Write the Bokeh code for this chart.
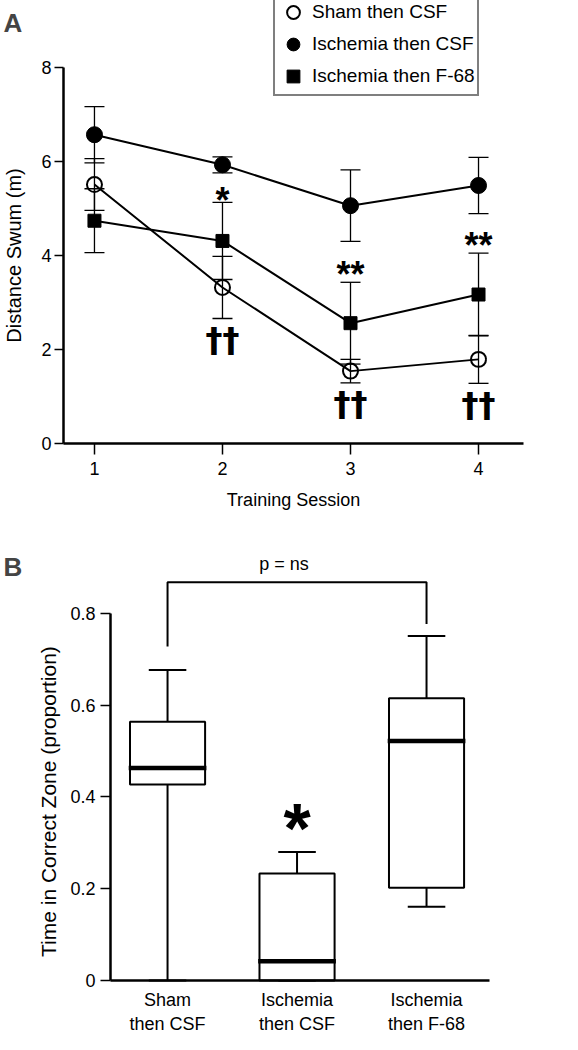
import math
from bokeh.plotting import figure
from bokeh.layouts import column
from bokeh.models import (Range1d, Legend, LegendItem, Whisker, TeeHead,
                          ColumnDataSource, FixedTicker, Label)
from bokeh.core.properties import value
from bokeh.embed import file_html
from bokeh.resources import INLINE

FONT = "Liberation Sans"

# ---------------- Panel A data ----------------
sessions = [1, 2, 3, 4]
sham_csf = [5.51, 3.32, 1.54, 1.79]
sham_csf_err = [0.55, 0.66, 0.25, 0.51]
isch_csf = [6.57, 5.93, 5.06, 5.49]
isch_csf_err = [0.60, 0.17, 0.76, 0.60]
isch_f68 = [4.74, 4.31, 2.56, 3.17]
isch_f68_err = [0.68, 0.82, 0.87, 0.88]
series_names = ["Sham then CSF", "Ischemia then CSF", "Ischemia then F-68"]

star_sessions = [2, 3, 4]
star_labels = ["*", "**", "**"]
dagger_sessions = [2, 3, 4]
dagger_labels = ["\u2020\u2020", "\u2020\u2020", "\u2020\u2020"]

# ---------------- Panel B data ----------------
groups = ["Sham\nthen CSF", "Ischemia\nthen CSF", "Ischemia\nthen F-68"]
group_pos = [1, 2, 3]
whisker_low = [0.0, 0.0, 0.161]
q1 = [0.427, 0.0, 0.202]
median = [0.463, 0.042, 0.522]
q3 = [0.564, 0.233, 0.615]
whisker_high = [0.677, 0.280, 0.751]
bracket_level = 0.868
bracket_ends = [0.728, 0.777]
bracket_text = "p = ns"


def style_axis(ax, tick_out=10):
    ax.axis_line_width = 2.5
    ax.axis_line_color = "black"
    ax.major_tick_line_width = 1.5
    ax.major_tick_line_color = "black"
    ax.minor_tick_line_color = None
    ax.major_tick_in = 0
    ax.major_tick_out = tick_out
    ax.major_label_text_font = FONT
    ax.major_label_text_font_size = "18px"
    ax.major_label_text_color = "black"
    ax.axis_label_text_font = FONT
    ax.axis_label_text_font_size = "18px"
    ax.axis_label_text_font_style = "normal"
    ax.axis_label_text_color = "black"


# ================= Panel A =================
# frame covers the whole figure; axes sit at fixed data locations
pA = figure(width=562, height=515, x_range=Range1d(0.266, 4.656),
            y_range=Range1d(-1.532, 9.426), output_backend="svg",
            toolbar_location=None, min_border_left=0, min_border_right=0,
            min_border_top=0, min_border_bottom=0)
pA.grid.visible = False
pA.outline_line_color = None
style_axis(pA.xaxis[0], 11)
style_axis(pA.yaxis[0], 9)
pA.xaxis.fixed_location = 0
pA.yaxis.fixed_location = 0.758
pA.xaxis.ticker = FixedTicker(ticks=sessions)
pA.yaxis.ticker = FixedTicker(ticks=[0, 2, 4, 6, 8])
pA.yaxis.bounds = (0, 8)
pA.xaxis.bounds = (0.758, 4.352)
pA.xaxis.axis_label = "Training Session"
pA.yaxis.axis_label = "Distance Swum (m)"
pA.yaxis.axis_label_text_font_size = "20px"
pA.xaxis.major_label_standoff = 8
pA.xaxis.axis_label_standoff = 11
pA.yaxis.major_label_standoff = 3
pA.yaxis.axis_label_standoff = 13

tee = dict(size=20, line_width=1.3, line_color="black")
for vals, errs in [(sham_csf, sham_csf_err), (isch_csf, isch_csf_err),
                   (isch_f68, isch_f68_err)]:
    src = ColumnDataSource(dict(x=sessions,
                                upper=[v + e for v, e in zip(vals, errs)],
                                lower=[v - e for v, e in zip(vals, errs)]))
    w = Whisker(base="x", upper="upper", lower="lower", source=src,
                level="underlay", line_width=1.3, line_color="black",
                upper_head=TeeHead(**tee), lower_head=TeeHead(**tee))
    pA.add_layout(w)
    pA.line(sessions, vals, line_color="black", line_width=2)

r_sham = pA.scatter(sessions, sham_csf, marker="circle", size=15,
                    fill_alpha=0, line_color="black", line_width=2)
r_isch = pA.scatter(sessions, isch_csf, marker="circle", size=16,
                    fill_color="black", line_color="black")
r_f68 = pA.scatter(sessions, isch_f68, marker="square", size=13,
                   fill_color="black", line_color="black")

star_y = [isch_f68[sessions.index(s)] + isch_f68_err[sessions.index(s)]
          + (0.05 if lab == "*" else 0.17)
          for s, lab in zip(star_sessions, star_labels)]
pA.text(star_sessions, star_y, text=star_labels, text_font=value(FONT),
        text_font_style="bold", text_font_size="36px", text_align="center",
        text_baseline="middle", text_color="black")
dag_y = [sham_csf[sessions.index(s)] - sham_csf_err[sessions.index(s)] - 0.46
         for s in dagger_sessions]
pA.text(dagger_sessions, dag_y, text=dagger_labels, text_font=value("DejaVu Sans"),
        text_font_style="bold", text_font_size="34px", text_align="center",
        text_baseline="middle", text_color="black")

legend = Legend(items=[LegendItem(label=series_names[0], renderers=[r_sham]),
                       LegendItem(label=series_names[1], renderers=[r_isch]),
                       LegendItem(label=series_names[2], renderers=[r_f68])],
                location=(273, 419))
legend.border_line_color = "black"
legend.border_line_width = 2
legend.background_fill_color = "white"
legend.background_fill_alpha = 1
legend.padding = 2
legend.spacing = -3
legend.margin = 0
legend.glyph_height = 32
legend.glyph_width = 32
legend.label_height = 32
legend.label_standoff = 3
legend.label_text_font = FONT
legend.label_text_font_size = "19px"
legend.label_text_color = "black"
pA.add_layout(legend)

pA.add_layout(Label(x=0.289, y=8.957, text="A", text_font=FONT,
                    text_font_style="bold", text_font_size="26px",
                    text_baseline="middle", text_align="left"))

# ================= Panel B =================
pB = figure(width=562, height=519, x_range=Range1d(-0.290, 4.050),
            y_range=Range1d(-0.1177, 1.0136), output_backend="svg",
            toolbar_location=None, min_border_left=0, min_border_right=0,
            min_border_top=0, min_border_bottom=0)
pB.grid.visible = False
pB.outline_line_color = None
style_axis(pB.xaxis[0], 0)
style_axis(pB.yaxis[0], 10)
pB.xaxis.fixed_location = 0
pB.yaxis.fixed_location = 0.560
pB.xaxis.bounds = (0.560, 3.486)
pB.xaxis.ticker = FixedTicker(ticks=group_pos)
pB.xaxis.major_label_overrides = dict(zip(group_pos, groups))
pB.xaxis.major_label_standoff = 9
pB.yaxis.ticker = FixedTicker(ticks=[0, 0.2, 0.4, 0.6, 0.8])
pB.yaxis.major_label_overrides = {0: "0", 0.2: "0.2", 0.4: "0.4", 0.6: "0.6", 0.8: "0.8"}
pB.yaxis.bounds = (0, 0.8)
pB.yaxis.major_label_standoff = 5

# y-axis title, placed alongside the 0-0.8 span of the axis
pB.add_layout(Label(x=0.081, y=0.39, text="Time in Correct Zone (proportion)",
                    angle=math.pi / 2, text_font=FONT, text_font_size="21px",
                    text_align="center", text_baseline="middle",
                    text_color="black"))

half_box = 0.29
half_cap = 0.145
pB.segment(group_pos, q3, group_pos, whisker_high, line_color="black", line_width=2)
pB.segment(group_pos, whisker_low, group_pos, q1, line_color="black", line_width=2)
pB.segment([g - half_cap for g in group_pos], whisker_high,
           [g + half_cap for g in group_pos], whisker_high,
           line_color="black", line_width=2)
pB.segment([g - half_cap for g in group_pos], whisker_low,
           [g + half_cap for g in group_pos], whisker_low,
           line_color="black", line_width=2)
pB.quad(left=[g - half_box for g in group_pos], right=[g + half_box for g in group_pos],
        bottom=q1, top=q3, fill_color="white", line_color="black", line_width=2)
pB.segment([g - half_box - 0.01 for g in group_pos], median,
           [g + half_box + 0.01 for g in group_pos], median,
           line_color="black", line_width=4.5)

# bracket between groups 1 and 3
pB.line([group_pos[0], group_pos[0], group_pos[2], group_pos[2]],
        [bracket_ends[0], bracket_level, bracket_level, bracket_ends[1]],
        line_color="black", line_width=2)
pB.text([1.9], [bracket_level + 0.04], text=[bracket_text], text_font=value(FONT),
        text_font_size="18px", text_align="center", text_baseline="middle",
        text_color="black")
pB.text([group_pos[1]], [whisker_high[1] + 0.05], text=["*"], text_font=value(FONT),
        text_font_style="bold", text_font_size="70px", text_align="center",
        text_baseline="middle", text_color="black")

pB.add_layout(Label(x=-0.266, y=0.902, text="B", text_font=FONT,
                    text_font_style="bold", text_font_size="26px",
                    text_baseline="middle", text_align="left"))

layout = column(pA, pB)
open("out.html", "w").write(file_html(layout, INLINE))
